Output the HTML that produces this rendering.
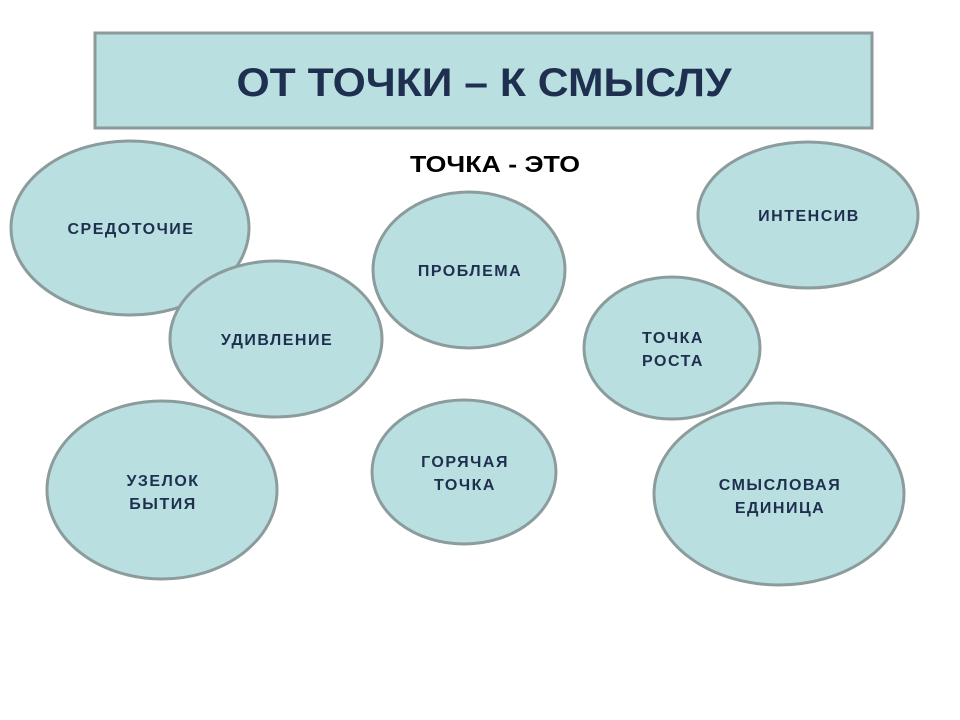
<!DOCTYPE html>
<html><head><meta charset="utf-8"><style>
html,body{margin:0;padding:0;background:#fff;}
svg{display:block;font-family:"Liberation Sans",sans-serif;}
</style></head><body>
<svg width="960" height="720" viewBox="0 0 960 720">
<rect x="95" y="33" width="777" height="95" fill="#b9dfe0" stroke="#8c9a9a" stroke-width="3"/>
<text x="484" y="96" text-anchor="middle" font-size="40" font-weight="bold" fill="#1f2f4f" textLength="495" lengthAdjust="spacingAndGlyphs">ОТ ТОЧКИ – К СМЫСЛУ</text>
<text x="495" y="172" text-anchor="middle" font-size="23" font-weight="bold" fill="#000" textLength="170" lengthAdjust="spacingAndGlyphs">ТОЧКА - ЭТО</text>
<g fill="#b9dfe0" stroke="#8c9c9c" stroke-width="3">
<ellipse cx="130" cy="228" rx="119" ry="87"/>
<ellipse cx="276" cy="339" rx="106" ry="78"/>
<ellipse cx="469" cy="270" rx="96" ry="78"/>
<ellipse cx="808" cy="215" rx="110" ry="73"/>
<ellipse cx="672" cy="348" rx="88" ry="71"/>
<ellipse cx="162" cy="490" rx="115" ry="89"/>
<ellipse cx="464" cy="472" rx="92" ry="72"/>
<ellipse cx="779" cy="494" rx="125" ry="91"/>
</g>
<g font-size="16" font-weight="bold" fill="#1f2f4f" text-anchor="middle" letter-spacing="1.5">
<text x="131" y="234">СРЕДОТОЧИЕ</text>
<text x="277" y="345">УДИВЛЕНИЕ</text>
<text x="470" y="276">ПРОБЛЕМА</text>
<text x="809" y="221">ИНТЕНСИВ</text>
<text x="673" y="343">ТОЧКА</text>
<text x="673" y="366">РОСТА</text>
<text x="163" y="486">УЗЕЛОК</text>
<text x="163" y="509">БЫТИЯ</text>
<text x="465" y="467">ГОРЯЧАЯ</text>
<text x="465" y="490">ТОЧКА</text>
<text x="780" y="490">СМЫСЛОВАЯ</text>
<text x="780" y="513">ЕДИНИЦА</text>
</g>
</svg>
</body></html>
